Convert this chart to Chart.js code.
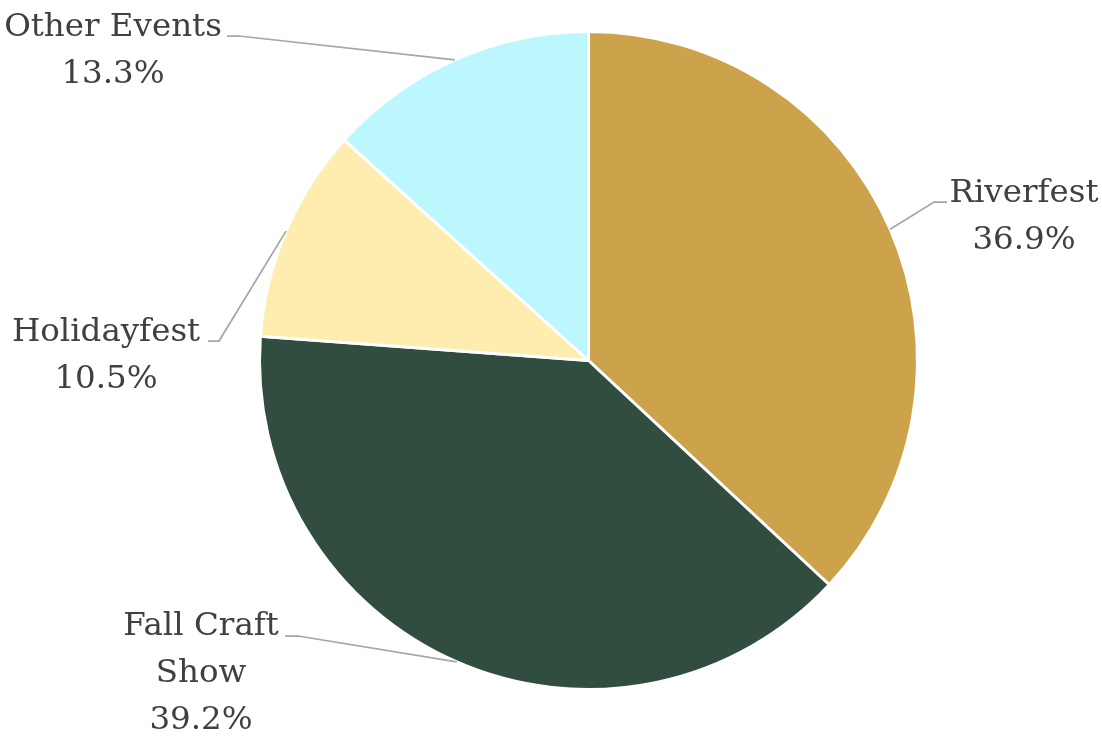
<!DOCTYPE html>
<html>
<head>
<meta charset="utf-8">
<script src="https://cdn.jsdelivr.net/npm/chart.js@4"></script>
<style>
  body { margin: 0; background: #fff; }
  #wrap { width: 1102px; height: 736px; }
</style>
</head>
<body>
<div id="wrap"><canvas id="pie" width="1102" height="736"></canvas></div>
<script>
var categories = ['Riverfest', 'Fall Craft Show', 'Holidayfest', 'Other Events'];
var shares = [36.9, 39.2, 10.5, 13.3];
var sliceColors = ['#CCA24A', '#304D40', '#FEEDAF', '#BCF7FD'];

// where each label sits: text centre x, first baseline y, the leader elbow
var labelSpots = [
	{ cx: 1024, y: 202, textEnd: 947, elbow: 934, lineY: 202, wrap: 9999 },
	{ cx: 201, y: 635, textEnd: 285, elbow: 298, lineY: 636, wrap: 200 },
	{ cx: 106, y: 341, textEnd: 208, elbow: 219, lineY: 341, wrap: 9999 },
	{ cx: 113, y: 36, textEnd: 227, elbow: 239, lineY: 36, wrap: 9999 }
];

var labelFont = '32.5px "DejaVu Serif", serif';
var lineGap = 47;

function wrapText(ctx, text, maxW)
{
	var words = text.split(' ');
	var lines = [];
	var cur = '';
	words.forEach(function (w) {
		var test = cur ? cur + ' ' + w : w;
		if (cur && ctx.measureText(test).width > maxW) {
			lines.push(cur);
			cur = w;
		} else {
			cur = test;
		}
	});
	if (cur) lines.push(cur);
	return lines;
}

var outsideLabels = {
	id: 'outsideLabels',
	afterDraw: function (chart) {
		var ctx = chart.ctx;
		var meta = chart.getDatasetMeta(0);
		var total = shares.reduce(function (a, b) { return a + b; }, 0);
		ctx.save();
		ctx.font = labelFont;
		meta.data.forEach(function (arc, i) {
			var p = arc.getProps(['x', 'y', 'startAngle', 'endAngle', 'outerRadius'], true);
			var mid = (p.startAngle + p.endAngle) / 2;
			var ex = p.x + Math.cos(mid) * p.outerRadius;
			var ey = p.y + Math.sin(mid) * p.outerRadius;
			var s = labelSpots[i];

			ctx.strokeStyle = '#A6A6A6';
			ctx.lineWidth = 1.75;
			ctx.beginPath();
			ctx.moveTo(ex, ey);
			ctx.lineTo(s.elbow, s.lineY);
			ctx.lineTo(s.textEnd, s.lineY);
			ctx.stroke();

			var lines = wrapText(ctx, categories[i], s.wrap);
			lines.push((shares[i] / total * 100).toFixed(1) + '%');
			ctx.fillStyle = '#404040';
			ctx.textAlign = 'center';
			ctx.textBaseline = 'alphabetic';
			lines.forEach(function (ln, k) {
				ctx.fillText(ln, s.cx, s.y + k * lineGap);
			});
		});
		ctx.restore();
	}
};

var ctx = document.getElementById('pie').getContext('2d');
var myChart = new Chart(ctx, {
	type: 'pie',
	data: {
		labels: categories,
		datasets: [{
			data: shares,
			backgroundColor: sliceColors,
			borderColor: '#ffffff',
			borderWidth: 3
		}]
	},
	options: {
		responsive: false,
		animation: false,
		layout: { padding: { top: 30, bottom: 45, left: 197, right: 122 } },
		plugins: {
			legend: { display: false },
			tooltip: { enabled: false }
		}
	},
	plugins: [outsideLabels]
});
</script>
</body>
</html>
